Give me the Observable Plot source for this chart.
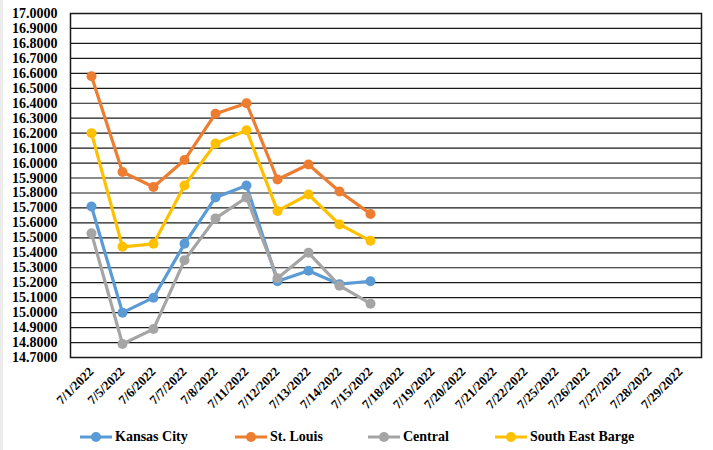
<!DOCTYPE html>
<html>
<head>
<meta charset="utf-8">
<script src="https://cdn.jsdelivr.net/npm/d3@7"></script>
<script src="https://cdn.jsdelivr.net/npm/@observablehq/plot@0.6"></script>
<style>
  html, body { margin: 0; padding: 0; background: #fff; overflow: hidden; }
  #wrap { position: relative; width: 713px; height: 450px; font-family: "Liberation Serif", "Times New Roman", serif; font-weight: bold; }
  #strip { position: absolute; left: 0; top: 0; width: 3px; height: 450px; background: #ececec; }
  #chart { position: absolute; left: 0; top: 0; }
  #legend { position: absolute; left: 0; top: 425px; height: 24px; width: 713px; }
  .item { position: absolute; top: 0; height: 24px; display: flex; align-items: center; font-size: 14px; color: #000; }
  .item svg { margin-right: 3px; }
</style>
</head>
<body>
<div id="wrap"><div id="strip"></div><div id="chart"></div><div id="legend"></div></div>
<script>
const dates = ["7/1/2022","7/5/2022","7/6/2022","7/7/2022","7/8/2022","7/11/2022","7/12/2022","7/13/2022","7/14/2022","7/15/2022","7/18/2022","7/19/2022","7/20/2022","7/21/2022","7/22/2022","7/25/2022","7/26/2022","7/27/2022","7/28/2022","7/29/2022"];
const seriesNames = ["Kansas City", "St. Louis", "Central", "South East Barge"];
const seriesColors = ["#5B9BD5", "#ED7D31", "#A5A5A5", "#FFC000"];
const kansasCity = [15.71, 15.00, 15.10, 15.46, 15.77, 15.85, 15.21, 15.28, 15.19, 15.21];
const stLouis = [16.58, 15.94, 15.84, 16.02, 16.33, 16.40, 15.89, 15.99, 15.81, 15.66];
const central = [15.53, 14.79, 14.89, 15.35, 15.63, 15.77, 15.23, 15.40, 15.18, 15.06];
const southEastBarge = [16.20, 15.44, 15.46, 15.85, 16.13, 16.22, 15.68, 15.79, 15.59, 15.48];
const yTicks = [14.7, 14.8, 14.9, 15.0, 15.1, 15.2, 15.3, 15.4, 15.5, 15.6, 15.7, 15.8, 15.9, 16.0, 16.1, 16.2, 16.3, 16.4, 16.5, 16.6, 16.7, 16.8, 16.9, 17.0];

const seriesValues = [kansasCity, stLouis, central, southEastBarge];
const rows = [];
seriesNames.forEach((name, i) => {
  seriesValues[i].forEach((v, j) => rows.push({date: dates[j], series: name, value: v}));
});

const chart = Plot.plot({
  width: 713,
  height: 425,
  marginLeft: 70,
  marginRight: 12,
  marginTop: 13,
  marginBottom: 68,
  style: {fontFamily: "'Liberation Serif', 'Times New Roman', serif", fontWeight: "bold", fontSize: "14px", color: "#000", background: "transparent"},
  x: {type: "point", domain: dates, padding: 0.5, label: null},
  y: {domain: [14.7, 17.0], label: null},
  color: {domain: seriesNames, range: seriesColors},
  marks: [
    Plot.gridY(yTicks, {stroke: "#1a1a1a", strokeOpacity: 1, strokeWidth: 1.2}),
    Plot.frame({stroke: "#1a1a1a", strokeWidth: 1.5}),
    Plot.line(rows, {x: "date", y: "value", z: "series", stroke: "series", strokeWidth: 3.2}),
    Plot.dot(rows, {x: "date", y: "value", fill: "series", r: 5}),
    Plot.axisY({ticks: yTicks, tickSize: 0, tickPadding: 13, tickFormat: d => d.toFixed(4), fontSize: 14}),
    Plot.axisX({tickSize: 0, tickRotate: -45, tickPadding: 12, fontSize: 13})
  ]
});
document.getElementById("chart").appendChild(chart);

const lefts = [80, 235, 368, 495];
const legend = document.getElementById("legend");
seriesNames.forEach((name, i) => {
  const item = document.createElement("div");
  item.className = "item";
  item.style.left = lefts[i] + "px";
  item.innerHTML = `<svg width="32" height="12"><line x1="0" y1="6" x2="32" y2="6" stroke="${seriesColors[i]}" stroke-width="3"/><circle cx="16" cy="6" r="5" fill="${seriesColors[i]}"/></svg><span>${name}</span>`;
  legend.appendChild(item);
});
</script>
</body>
</html>
